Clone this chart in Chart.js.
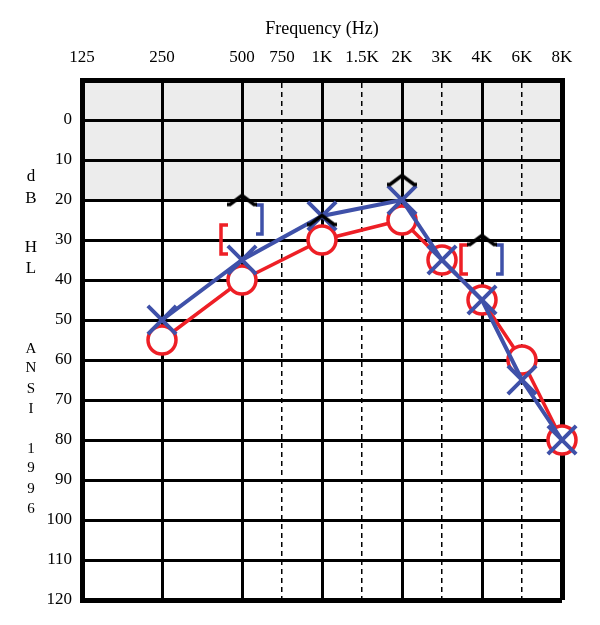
<!DOCTYPE html>
<html>
<head>
<meta charset="utf-8">
<script src="https://cdn.jsdelivr.net/npm/chart.js@4.4.1/dist/chart.umd.min.js"></script>
<style>
  html, body { margin: 0; padding: 0; background: #ffffff; }
  #wrap { position: relative; width: 600px; height: 625px; }
</style>
</head>
<body>
<div id="wrap"><canvas id="c" width="600" height="625"></canvas></div>
<script>
// ---------- data ----------
// frequency axis categories (octave / half-octave steps; blanks are unlabeled half-octaves)
const freqLabels = ['125', '', '250', '', '500', '750', '1K', '1.5K', '2K', '3K', '4K', '6K', '8K'];
const interOctaveLabels = ['750', '1.5K', '3K', '6K'];
const dbTicks = [0, 10, 20, 30, 40, 50, 60, 70, 80, 90, 100, 110, 120];
const dbRange = [-10, 120];
const normalBand = [-10, 20];

// right ear, air conduction (O)
const rightAirFreqs = ['250', '500', '1K', '2K', '3K', '4K', '6K', '8K'];
const rightAir = [55, 40, 30, 25, 35, 45, 60, 80];
// left ear, air conduction (X)
const leftAirFreqs = ['250', '500', '1K', '2K', '3K', '4K', '6K', '8K'];
const leftAir = [50, 35, 24, 20, 35, 45, 65, 80];
// unmasked bone conduction (^)
const boneFreqs = ['500', '1K', '2K', '4K'];
const bone = [20, 25, 15, 30];
// right ear masked bone conduction ([)
const rightBoneFreqs = ['500', '4K'];
const rightBone = [30, 35];
// left ear masked bone conduction (])
const leftBoneFreqs = ['500', '4K'];
const leftBone = [25, 35];

const sideTitle = ['d', 'B', 'H', 'L', 'A', 'N', 'S', 'I', '1', '9', '9', '6'];

// ---------- styles ----------
const RED = '#ee1f26';
const BLUE = '#3f51a9';
const SERIF = '"Liberation Serif", "Times New Roman", serif';

function pts(freqs, vals) { return freqs.map((f, i) => ({ x: f, y: vals[i] })); }

// marker glyphs drawn onto small canvases (used as point styles)
function caretGlyph() {
  const c = document.createElement('canvas'); c.width = 32; c.height = 15;
  const g = c.getContext('2d');
  g.strokeStyle = '#000'; g.lineWidth = 3.5; g.lineJoin = 'miter';
  g.beginPath(); g.moveTo(1, 12); g.lineTo(4, 12); g.lineTo(16, 3); g.lineTo(28, 12); g.lineTo(31, 12); g.stroke();
  return c;
}
function bracketGlyph(color, left) {
  const c = document.createElement('canvas'); c.width = 50; c.height = 34;
  const g = c.getContext('2d');
  g.strokeStyle = color; g.lineWidth = 3.5; g.lineJoin = 'miter';
  g.beginPath();
  if (left) { g.moveTo(11, 2); g.lineTo(4, 2); g.lineTo(4, 31); g.lineTo(11, 31); }
  else { g.moveTo(39, 2); g.lineTo(45, 2); g.lineTo(45, 31); g.lineTo(39, 31); }
  g.stroke();
  return c;
}

const bandPlugin = {
  id: 'normalBand',
  beforeDraw(chart) {
    const { ctx, chartArea, scales } = chart;
    const y0 = scales.y.getPixelForValue(normalBand[0]);
    const y1 = scales.y.getPixelForValue(normalBand[1]);
    ctx.save();
    ctx.fillStyle = '#ececec';
    ctx.fillRect(chartArea.left, y0, chartArea.right - chartArea.left, y1 - y0);
    ctx.restore();
  }
};

const sideTitlePlugin = {
  id: 'sideTitle',
  afterDraw(chart) {
    const { ctx } = chart;
    const ys = [177, 199, 248, 269, 349, 368, 389, 409, 449, 468, 489, 509];
    ctx.save();
    ctx.fillStyle = '#000';
    ctx.textAlign = 'center';
    ctx.textBaseline = 'middle';
    sideTitle.forEach((t, i) => {
      ctx.font = (i < 4 ? '17px ' : '15px ') + SERIF;
      ctx.fillText(t, 31, ys[i]);
    });
    ctx.restore();
  }
};

const isEdgeX = (i) => i === 0 || i === freqLabels.length - 1;

new Chart(document.getElementById('c'), {
  type: 'line',
  data: {
    labels: freqLabels,
    datasets: [
      {
        label: 'Bone (unmasked)', data: pts(boneFreqs, bone), showLine: false,
        pointStyle: caretGlyph(), pointRadius: 5, order: 0, clip: false
      },
      {
        label: 'Right bone masked', data: pts(rightBoneFreqs, rightBone), showLine: false,
        pointStyle: bracketGlyph(RED, true), pointRadius: 5, order: 0, clip: false
      },
      {
        label: 'Left bone masked', data: pts(leftBoneFreqs, leftBone), showLine: false,
        pointStyle: bracketGlyph(BLUE, false), pointRadius: 5, order: 0, clip: false
      },
      {
        label: 'Left air', data: pts(leftAirFreqs, leftAir),
        borderColor: BLUE, borderWidth: 4, spanGaps: true, fill: false,
        pointStyle: 'crossRot', pointRadius: 20, pointBorderWidth: 4,
        pointBorderColor: BLUE, pointBackgroundColor: BLUE, order: 2, clip: false
      },
      {
        label: 'Right air', data: pts(rightAirFreqs, rightAir),
        borderColor: RED, borderWidth: 3.5, spanGaps: true, fill: false,
        pointStyle: 'circle', pointRadius: 14, pointBorderWidth: 3.5,
        pointBorderColor: RED, pointBackgroundColor: '#ffffff', order: 3, clip: false
      }
    ]
  },
  options: {
    responsive: false,
    animation: false,
    events: [],
    layout: { padding: { left: 0, top: 0, right: 38, bottom: 25 } },
    plugins: { legend: { display: false }, tooltip: { enabled: false } },
    scales: {
      x: {
        type: 'category', position: 'top', offset: false,
        afterFit(s) { s.height = 80; },
        ticks: {
          autoSkip: false, maxRotation: 0, minRotation: 0, padding: 12,
          color: '#000', font: { family: SERIF, size: 17 }
        },
        grid: {
          drawTicks: false,
          color: (c) => (c.tick && freqLabels[c.index] === '') ? 'rgba(0,0,0,0)' : '#000',
          lineWidth: (c) => {
            const lab = freqLabels[c.index];
            if (isEdgeX(c.index)) return 5;
            if (interOctaveLabels.includes(lab)) return 1.5;
            return 3;
          }
        },
        border: {
          display: true, color: '#000', width: 5,
          dash: (c) => (c.tick && interOctaveLabels.includes(freqLabels[c.index])) ? [5, 4] : []
        },
        title: {
          display: true, text: 'Frequency (Hz)', color: '#000',
          font: { family: SERIF, size: 18 }, padding: { top: 18, bottom: 0 }
        }
      },
      y: {
        type: 'linear', reverse: true, min: dbRange[0], max: dbRange[1],
        afterFit(s) { s.width = 82; },
        afterBuildTicks(s) { s.ticks = [dbRange[0]].concat(dbTicks).map(v => ({ value: v })); },
        ticks: {
          padding: 10, color: '#000', font: { family: SERIF, size: 17 },
          callback: (v) => (v === dbRange[0] ? '' : v)
        },
        grid: {
          drawTicks: false, color: '#000',
          lineWidth: (c) => (c.tick && (c.tick.value === dbRange[0] || c.tick.value === dbRange[1])) ? 5 : 3
        },
        border: { display: true, color: '#000', width: 5 }
      }
    }
  },
  plugins: [bandPlugin, sideTitlePlugin]
});
</script>
</body>
</html>
